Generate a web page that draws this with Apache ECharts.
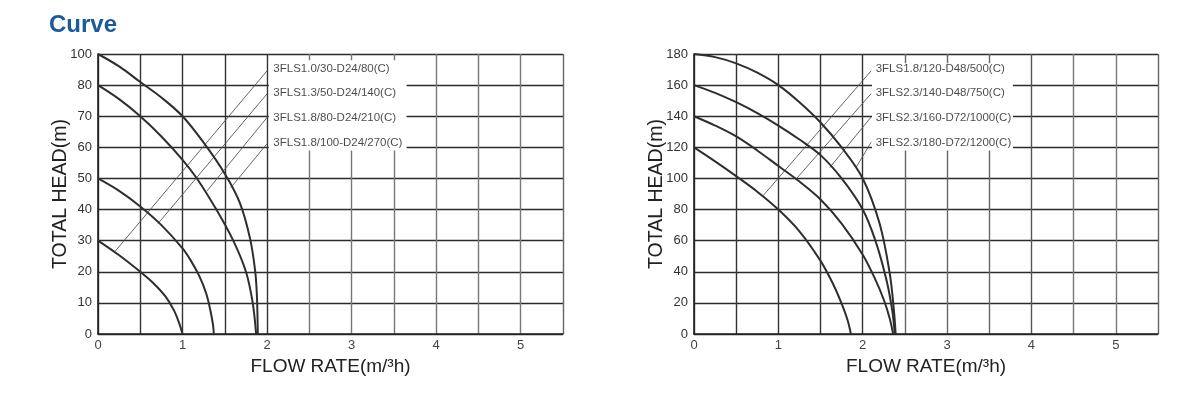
<!DOCTYPE html>
<html><head><meta charset="utf-8">
<script src="https://cdn.jsdelivr.net/npm/echarts@6/dist/echarts.min.js"></script>
<style>html,body{margin:0;padding:0;background:#fff}#c{width:1200px;height:397px}</style>
</head><body><div id="c"></div><script>
// ---------------- data ----------------
const xTickLabels = ['0', '1', '2', '3', '4', '5'];
const leftYTickLabels = ['0', '10', '20', '30', '40', '50', '60', '70', '80', '100'];
const rightYTickLabels = ['0', '20', '40', '60', '80', '100', '120', '140', '160', '180'];

const leftNames = ['3FLS1.0/30-D24/80(C)', '3FLS1.3/50-D24/140(C)', '3FLS1.8/80-D24/210(C)', '3FLS1.8/100-D24/270(C)'];
const leftFlowA = [0, 0.25, 0.5, 0.65, 0.8, 0.9, 0.96, 1.0];
const leftHeadA = [30, 25.3, 20, 16.5, 12, 7.5, 3.5, 0];
const leftFlowB = [0, 0.25, 0.5, 0.75, 1.0, 1.1, 1.2, 1.28, 1.33, 1.36, 1.37];
const leftHeadB = [50, 46, 41, 35, 27.5, 23.5, 18.5, 13, 7.5, 3, 0];
const leftFlowC = [0, 0.25, 0.5, 0.75, 1.0, 1.17, 1.4, 1.6, 1.75, 1.83, 1.87];
const leftHeadC = [80, 75.5, 70, 63.5, 56, 50, 40, 30, 20, 10, 0];
const leftFlowD = [0, 0.25, 0.5, 0.75, 1.0, 1.25, 1.5, 1.68, 1.8, 1.86, 1.88, 1.89];
const leftHeadD = [100, 92, 82, 76, 70, 61.5, 51.5, 42, 30.5, 20, 12, 0];
// leader lines: start point on curve, end at label
const leftLeaderFrom = [[0.2, 26.5], [0.71, 35.5], [1.29, 46], [1.57, 47]];
const leftLeaderTo = [[2.0, 89.2], [2.0, 77.2], [2.0, 69.6], [2.0, 61.2]];
const leftLabelAt = [[2.05, 90.6], [2.05, 77.4], [2.05, 69.6], [2.05, 61.5]];
const leftLabelBox = [[2.02, 96], [3.65, 59]];

const rightNames = ['3FLS1.8/120-D48/500(C)', '3FLS2.3/140-D48/750(C)', '3FLS2.3/160-D72/1000(C)', '3FLS2.3/180-D72/1200(C)'];
const rightFlowE = [0, 0.25, 0.5, 0.75, 1.0, 1.25, 1.5, 1.65, 1.75, 1.82, 1.86];
const rightHeadE = [120, 111, 101.5, 91.5, 80, 66, 47, 32, 19.5, 9, 0];
const rightFlowF = [0, 0.25, 0.5, 0.75, 1.0, 1.25, 1.5, 1.75, 2.0, 2.15, 2.25, 2.32, 2.36];
const rightHeadF = [140, 134, 127, 118, 108, 98, 86.5, 71, 51, 35, 22, 10, 0];
const rightFlowG = [0, 0.25, 0.5, 0.75, 1.0, 1.25, 1.5, 1.75, 2.0, 2.15, 2.28, 2.35, 2.38];
const rightHeadG = [160, 155, 149, 142, 134, 125, 115, 100, 80, 60, 35, 15, 0];
const rightFlowH = [0, 0.25, 0.5, 0.75, 1.0, 1.25, 1.5, 1.75, 2.0, 2.2, 2.32, 2.37, 2.39];
const rightHeadH = [180, 178, 174, 168, 160, 149, 136, 120, 100, 71, 39, 15, 0];
const rightLeaderFrom = [[0.82, 89], [1.2, 99], [1.61, 107], [1.92, 107]];
const rightLeaderTo = [[2.1, 169.2], [2.1, 154.5], [2.1, 139.5], [2.1, 123.3]];
const rightLabelAt = [[2.13, 170.5], [2.13, 154.8], [2.13, 139], [2.13, 123]];
const rightLabelBox = [[2.11, 174], [3.78, 118]];

// ---------------- helpers ----------------
// left axis is evenly spaced by tick label; map a head value to axis position
function leftPos(h) {
  const t = leftYTickLabels.map(Number);
  for (let i = 0; i < t.length - 1; i++) {
    if (h <= t[i + 1]) return (i + (h - t[i]) / (t[i + 1] - t[i])) * 10;
  }
  return (t.length - 1) * 10;
}
const ident = h => h;
function pairs(xs, ys, f) { return xs.map((x, i) => [x, f(ys[i])]); }
function pt(p, f) { return [p[0], f(p[1])]; }

const FONT = 'Liberation Sans';
const dark = '#2b2b2b';

function xAxisCfg(gridIndex, colors) {
  return {
    type: 'value', gridIndex, min: 0, max: 5.5, interval: 0.5,
    axisLine: { show: true, lineStyle: { color: '#222', width: 1.6 } },
    axisTick: { show: false },
    splitLine: { show: true, lineStyle: { color: colors, width: 1.4 } },
    axisLabel: {
      color: '#444', fontSize: 13, fontFamily: FONT, margin: 5,
      formatter: v => (Number.isInteger(v) ? xTickLabels[v] : '')
    },
    name: 'FLOW RATE(m/³h)', nameLocation: 'middle', nameGap: 23,
    nameTextStyle: { fontSize: 19, color: '#222', fontFamily: FONT }
  };
}
function yAxisCfg(gridIndex, max, interval, labels) {
  return {
    type: 'value', gridIndex, min: 0, max, interval,
    axisLine: { show: true, lineStyle: { color: '#222', width: 1.6 } },
    axisTick: { show: false },
    splitLine: { show: true, lineStyle: { color: dark, width: 1.4 } },
    axisLabel: {
      color: '#333', fontSize: 13, fontFamily: FONT, margin: 6,
      formatter: v => labels[Math.round(v / interval)]
    },
    name: 'TOTAL HEAD(m)', nameLocation: 'middle', nameGap: 27, nameMoveOverlap: false,
    nameTextStyle: { fontSize: 19.5, color: '#222', fontFamily: FONT }
  };
}

const leftColors = ['#333', '#333', '#333', '#333', '#333', '#777', '#777', '#777', '#777', '#777', '#777', '#666'];
const rightColors = ['#333', '#333', '#333', '#333', '#333', '#666', '#666', '#666', '#555', '#777', '#777', '#666'];

function curve(data, xi) {
  return {
    type: 'line', xAxisIndex: xi, yAxisIndex: xi, data, smooth: 0.35,
    showSymbol: false, lineStyle: { color: '#2e2e2e', width: 2 }, z: 4, silent: true
  };
}
function leader(a, b, xi) {
  return {
    type: 'line', xAxisIndex: xi, yAxisIndex: xi, data: [a, b], showSymbol: false,
    lineStyle: { color: '#555', width: 0.9 }, z: 3, silent: true
  };
}
function labels(points, names, xi) {
  return {
    type: 'scatter', xAxisIndex: xi, yAxisIndex: xi, symbolSize: 0, z: 6, silent: true,
    data: points.map((p, i) => ({ value: p, name: names[i] })),
    label: {
      show: true, position: 'right', distance: 2, formatter: p => p.name,
      fontSize: 11.5, color: '#1a1a1a', fontFamily: FONT
    }
  };
}
function box(b, xi) {
  return {
    type: 'line', xAxisIndex: xi, yAxisIndex: xi, data: [], z: 2, silent: true,
    markArea: {
      silent: true, itemStyle: { color: '#fff', opacity: 1 },
      data: [[{ coord: b[0] }, { coord: b[1] }]]
    }
  };
}

const series = [];
series.push(box([pt(leftLabelBox[0], leftPos), pt(leftLabelBox[1], leftPos)], 0));
series.push(curve(pairs(leftFlowA, leftHeadA, leftPos), 0));
series.push(curve(pairs(leftFlowB, leftHeadB, leftPos), 0));
series.push(curve(pairs(leftFlowC, leftHeadC, leftPos), 0));
series.push(curve(pairs(leftFlowD, leftHeadD, leftPos), 0));
leftLeaderFrom.forEach((p, i) => series.push(leader(pt(p, leftPos), pt(leftLeaderTo[i], leftPos), 0)));
series.push(labels(leftLabelAt.map(p => pt(p, leftPos)), leftNames, 0));

series.push(box(rightLabelBox, 1));
series.push(curve(pairs(rightFlowE, rightHeadE, ident), 1));
series.push(curve(pairs(rightFlowF, rightHeadF, ident), 1));
series.push(curve(pairs(rightFlowG, rightHeadG, ident), 1));
series.push(curve(pairs(rightFlowH, rightHeadH, ident), 1));
rightLeaderFrom.forEach((p, i) => series.push(leader(p, rightLeaderTo[i], 1)));
series.push(labels(rightLabelAt, rightNames, 1));

const chart = echarts.init(document.getElementById('c'), null, { renderer: 'canvas' });
chart.setOption({
  animation: false,
  backgroundColor: '#fff',
  title: {
    text: 'Curve', left: 44, top: 8,
    textStyle: { fontSize: 24, fontWeight: 'bold', color: '#1d5a98', fontFamily: FONT }
  },
  grid: [
    { left: 98, top: 54, width: 465, height: 280 },
    { left: 694, top: 54, width: 464, height: 280 }
  ],
  xAxis: [xAxisCfg(0, leftColors), xAxisCfg(1, rightColors)],
  yAxis: [yAxisCfg(0, 90, 10, leftYTickLabels), yAxisCfg(1, 180, 20, rightYTickLabels)],
  series
});
</script></body></html>
